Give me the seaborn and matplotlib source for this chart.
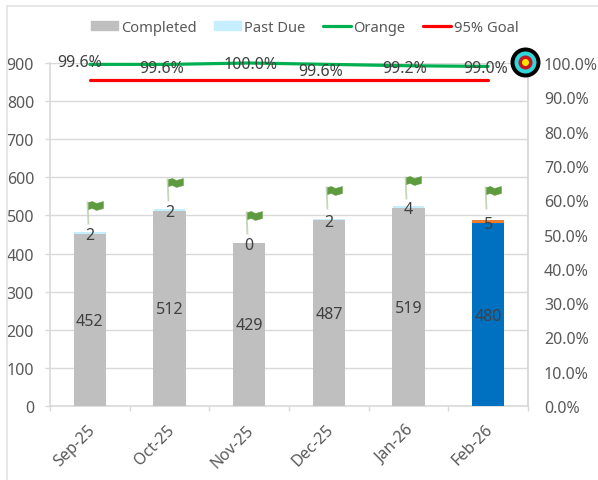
import matplotlib
matplotlib.use('Agg')
import matplotlib.pyplot as plt
import numpy as np
import seaborn as sns
from matplotlib.lines import Line2D
from matplotlib.patches import Patch
from matplotlib.path import Path
from matplotlib.transforms import ScaledTranslation

months = ['Sep-25', 'Oct-25', 'Nov-25', 'Dec-25', 'Jan-26', 'Feb-26']
completed = [452, 512, 429, 487, 519, 480]
past_due = [2, 2, 0, 2, 4, 5]
orange = [0.996, 0.996, 1.0, 0.996, 0.992, 0.99]
goal = [0.95, 0.95, 0.95, 0.95, 0.95, 0.95]
flag_base = [478, 538, 451, 517, 543, 517]
left_ticks = [0, 100, 200, 300, 400, 500, 600, 700, 800, 900]
right_ticks = [0.0, 0.1, 0.2, 0.3, 0.4, 0.5, 0.6, 0.7, 0.8, 0.9, 1.0]

GREY = '#BFBFBF'
BLUE = '#0070C0'
PALE = '#C5EFFF'
ORANGE = '#ED7D31'
GREEN = '#00B050'
RED = '#FF0000'
GRID = '#D9D9D9'
TICK = '#595959'
LABEL = '#404040'
PX = 0.72  # 1 px in points at dpi 100

sns.set_theme(style='white')
plt.rcParams['font.family'] = ['Noto Sans', 'DejaVu Sans']
plt.rcParams['font.size'] = 11.5

fig = plt.figure(figsize=(5.98, 4.81), dpi=100, facecolor='white')
ax = fig.add_axes([50 / 598, 1 - 407 / 481, 478 / 598, 343 / 481])

# stacked look: totals behind, completed in front
# the strip is only 1px tall at this scale, the edge makes it show like the original
totals = np.array(completed) + np.array(past_due)
top_colors = [PALE] * 5 + [ORANGE]
sns.barplot(x=months, y=totals, hue=months, palette=top_colors,
            width=0.37, legend=False, saturation=1, ax=ax, zorder=2, linewidth=2 * PX)
for c, col, v in zip(ax.containers, top_colors, past_due):
    c[0].set_edgecolor(col)
    if v == 0:
        c[0].set_linewidth(0)
sns.barplot(x=months, y=completed, hue=months, palette=[GREY] * 5 + [BLUE],
            width=0.41, legend=False, saturation=1, ax=ax, zorder=3, linewidth=0)

ax.set_xlim(-0.5, 5.5)
ax.set_ylim(0, 900)
ax.set_yticks(left_ticks)
ax.set_xlabel('')
ax.set_ylabel('')
ax.grid(axis='y', color=GRID, lw=1.0)
ax.set_axisbelow(True)
ax.set_xticks(np.arange(6))
ax.set_xticklabels(months, rotation=45, ha='right', rotation_mode='anchor', color=TICK)
ax.set_xticks(np.arange(-0.5, 6), minor=True)
ax.tick_params(axis='x', which='major', length=0, pad=11, labelsize=11.5)
ax.tick_params(axis='x', which='minor', length=5 * PX, width=1, color=GRID, bottom=True)
for s in ax.spines.values():
    s.set_color(GRID)
    s.set_linewidth(1.2)
ax.spines['top'].set_visible(False)
shift = ScaledTranslation(-3 / 100, 0, fig.dpi_scale_trans)
for t in ax.get_xticklabels():
    t.set_transform(t.get_transform() + shift)

# flags on poles
pole = Path([(-2, 0), (-3, 23)], [Path.MOVETO, Path.LINETO])
cloth = Path([(-2, 15), (2, 16), (6, 14), (13, 16), (13, 23), (6, 21), (2, 23), (-2, 22), (-2, 15)])
xpos = np.arange(len(months))
ax.plot(xpos, flag_base, ls='none', marker=pole, ms=46 * PX, mfc='none', mec='#C6D6B8', mew=1.3, zorder=4, clip_on=False)
ax.plot(xpos, flag_base, ls='none', marker=cloth, ms=46 * PX, mfc='#5E9A3E', mec='#5E9A3E', mew=0.3, zorder=5, clip_on=False)

# value labels on the bars
for i, v in enumerate(completed):
    ax.annotate(str(v), (i, v / 2), xytext=(0, -1 * PX), textcoords='offset points', ha='center', va='center',
                color=LABEL, fontsize=11.5, zorder=6)
for i, v in enumerate(past_due):
    ax.annotate(str(v), (i, completed[i] + v / 2), xytext=(0, -2 * PX), textcoords='offset points', ha='center', va='center',
                color=LABEL, fontsize=11.5, zorder=6)

ax2 = ax.twinx()
ax2.set_ylim(0, 1)
ax2.set_yticks(right_ticks)
ax2.set_yticklabels(['%.1f%%' % (t * 100) for t in right_ticks])
ax2.tick_params(axis='y', length=0, pad=16 * PX, labelcolor=TICK, labelsize=11.5, right=False)
for s in ax2.spines.values():
    s.set_visible(False)
ax2.spines['right'].set_visible(True)
ax2.spines['right'].set_color(GRID)
ax2.spines['right'].set_linewidth(1.2)

ax.tick_params(axis='y', length=5 * PX, width=1, color=GRID, left=True, pad=11 * PX, labelcolor=TICK, labelsize=11.5)

sns.lineplot(x=xpos, y=orange, color=GREEN, lw=2.3, errorbar=None, ax=ax2, clip_on=False, zorder=3)
sns.lineplot(x=xpos, y=goal, color=RED, lw=2.3, errorbar=None, ax=ax2, clip_on=False, zorder=3)
ax2.set_xlabel('')
ax2.set_ylabel('')

# percent labels sit a little off their points in the original
label_shift = [(-10, 2.4), (-8, -3.6), (1.5, -1), (-8, -6.6), (-4, -2.3), (-3, -1.6)]
for i, v in enumerate(orange):
    dx, dy = label_shift[i]
    ax2.annotate('%.1f%%' % (v * 100), (i, v), xytext=(dx * PX, dy * PX), textcoords='offset points',
                 ha='center', va='center', color=LABEL, fontsize=11.5, zorder=6, annotation_clip=False)

# target icon at the top of the right axis
for d, c in zip([30, 22, 14, 7], ['black', '#2FD6DA', '#C8141E', '#FFE600']):
    ax2.scatter([5.46], [1.003], s=(d * PX) ** 2, color=c, linewidths=0, zorder=7, clip_on=False)

handles = [Patch(color=GREY, label='Completed'), Patch(color=PALE, label='Past Due'),
           Line2D([], [], color=GREEN, lw=2.3, label='Orange'), Line2D([], [], color=RED, lw=2.3, label='95% Goal')]
fig.legend(handles=handles, ncol=4, loc='center', bbox_to_anchor=(304.5 / 598, 1 - 28 / 481), frameon=False,
           fontsize=10.6, labelcolor=TICK, handlelength=1.85, handleheight=0.6, handletextpad=0.2, columnspacing=1.2)

# chart frame, only top and left show in the crop
fig.add_artist(Line2D([7 / 598, 7 / 598], [0, 1 - 7 / 481], color='#E3E3E3', lw=1.2))
fig.add_artist(Line2D([7 / 598, 1], [1 - 7 / 481, 1 - 7 / 481], color='#E3E3E3', lw=1.2))

fig.savefig('out.png', dpi=100)
